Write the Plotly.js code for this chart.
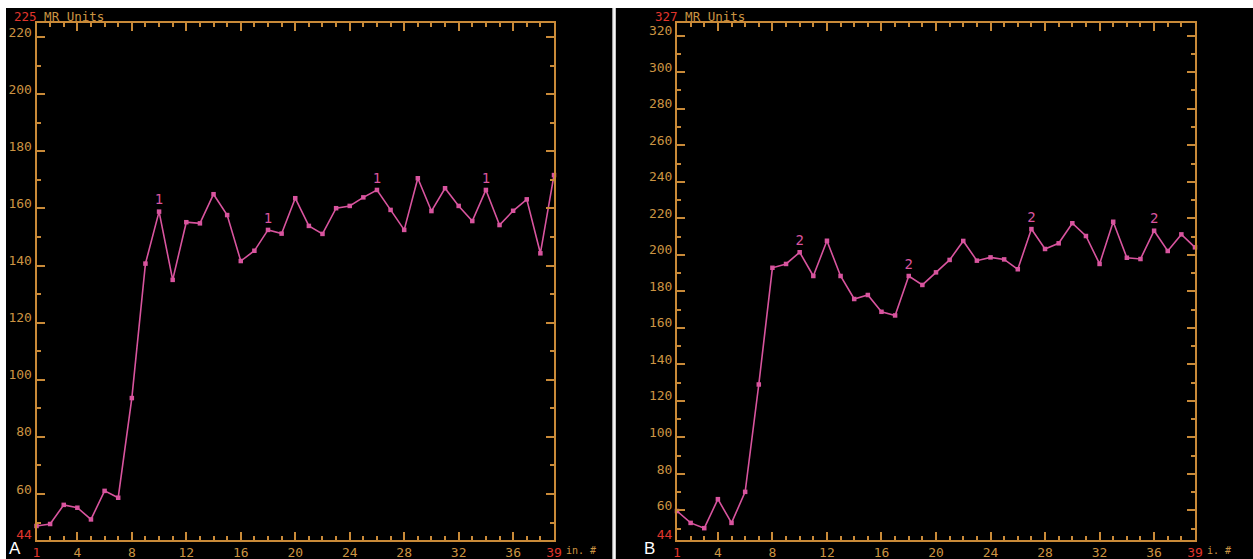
<!DOCTYPE html>
<html><head><meta charset="utf-8">
<script src="https://cdn.plot.ly/plotly-3.0.1.min.js"></script>
<style>html,body{margin:0;padding:0;background:#fff;}#chart{width:1253px;height:559px;}</style>
</head><body><div id="chart"></div>
<script>
// ---- data ----
const scanIndex = [1,2,3,4,5,6,7,8,9,10,11,12,13,14,15,16,17,18,19,20,21,22,23,24,25,26,27,28,29,30,31,32,33,34,35,36,37,38,39];
const valuesA = [48.8,49.5,56.2,55.2,51.1,61.1,58.7,93.6,140.7,158.9,135.0,155.2,154.8,165.0,157.7,141.6,145.2,152.5,151.2,163.6,153.9,151.1,160.1,160.9,163.9,166.5,159.5,152.5,170.6,159.1,167.1,160.9,155.6,166.5,154.2,159.2,163.2,144.3,171.7];
const valuesB = [59.7,53.2,50.3,66.2,53.2,70.2,129.0,192.9,195.0,201.4,188.4,207.7,188.4,175.8,178.0,168.8,166.8,188.4,183.5,190.4,197.2,207.6,196.8,198.6,197.5,192.1,214.1,203.2,206.3,217.3,210.3,195.0,218.1,198.4,197.7,213.2,202.1,211.2,204.1];
const labelPointsA = [10,18,26,34];
const labelPointsB = [10,18,27,36];
const markLabelA = '1';
const markLabelB = '2';
const xTickVals = [1,4,8,12,16,20,24,28,32,36,39];
const yTickValsA = [44,60,80,100,120,140,160,180,200,220];
const yTickValsB = [44,60,80,100,120,140,160,180,200,220,240,260,280,300,320];
const yMinAll = 44;
const yMaxA = 225;
const yMaxB = 327;
const unitLabel = 'MR Units';
const xUnitA = 'in. #';
const xUnitB = 'i. #';
const panelA = 'A';
const panelB = 'B';

// ---- style ----
const W = 1253, H = 559;
const axisColor = '#c98a38';
const labelColor = '#cc9442';
const red = '#e0352c';
const lineColor = '#d8549e';
const mono = 'DejaVu Sans Mono, Liberation Mono, monospace';
const px = v => v / W;
const py = v => 1 - v / H;

const red_ = t => `<span style="color:${red}">${t}</span>`;
const xText = xTickVals.map((v,i) => (i===0 || i===xTickVals.length-1) ? red_(v) : String(v));
const yTextA = yTickValsA.map(v => v===yMinAll ? red_(v) : String(v));
const yTextB = yTickValsB.map(v => v===yMinAll ? red_(v) : String(v));

function labels(idx, lab){ return scanIndex.map(i => idx.includes(i) ? lab : ''); }

function trace(vals, idx, lab, xa, ya){
  return {
    x: scanIndex, y: vals, xaxis: xa, yaxis: ya,
    type: 'scatter', mode: 'lines+markers+text',
    text: labels(idx, lab), textposition: 'top center',
    textfont: {family: mono, size: 14, color: lineColor},
    line: {color: lineColor, width: 1.6},
    marker: {color: lineColor, size: 4.5, symbol: 'square'},
    cliponaxis: false, hoverinfo: 'skip', showlegend: false
  };
}

function xaxis(dom){
  return {
    domain: dom, range: [1,39], showgrid: false, zeroline: false,
    showline: true, linecolor: axisColor, linewidth: 2, mirror: 'ticks',
    ticks: 'inside', ticklen: 8, tickwidth: 2, tickcolor: axisColor,
    tickmode: 'array', tickvals: xTickVals, ticktext: xText,
    tickfont: {family: mono, size: 13, color: labelColor},
    minor: {tickmode: 'linear', tick0: 0, dtick: 1, ticklen: 4, tickwidth: 2, tickcolor: axisColor, ticks: 'inside'},
    fixedrange: true
  };
}
function yaxis(xa, ymax, vals, txt){
  return {
    anchor: xa, domain: [py(539.7), py(22.9)], range: [yMinAll, ymax],
    showgrid: false, zeroline: false,
    showline: true, linecolor: axisColor, linewidth: 2, mirror: 'ticks',
    ticks: 'inside', ticklen: 8, tickwidth: 2, tickcolor: axisColor,
    tickmode: 'array', tickvals: vals, ticktext: txt,
    ticklabelshift: -5, ticklabelstandoff: 0,
    tickfont: {family: mono, size: 13, color: labelColor},
    minor: {tickmode: 'linear', tick0: 0, dtick: 10, ticklen: 4, tickwidth: 2, tickcolor: axisColor, ticks: 'inside'},
    fixedrange: true
  };
}

const layout = {
  width: W, height: H, margin: {l:0, r:0, t:0, b:0},
  paper_bgcolor: '#ffffff', plot_bgcolor: '#000000',
  xaxis: xaxis([px(36.5), px(554)]),
  yaxis: yaxis('x', yMaxA, yTickValsA, yTextA),
  xaxis2: Object.assign(xaxis([px(677), px(1195)]), {anchor: 'y2'}),
  yaxis2: yaxis('x2', yMaxB, yTickValsB, yTextB),
  shapes: [
    {type:'rect', xref:'paper', yref:'paper', x0:px(6), x1:px(612.5), y0:0, y1:py(8), fillcolor:'#000', line:{width:0}, layer:'below'},
    {type:'rect', xref:'paper', yref:'paper', x0:px(615.8), x1:1, y0:0, y1:py(8), fillcolor:'#000', line:{width:0}, layer:'below'},
    {type:'line', xref:'paper', yref:'paper', x0:px(612.9), x1:px(612.9), y0:0, y1:py(8), line:{color:'#bdbdbd', width:0.8}},
    {type:'line', xref:'paper', yref:'paper', x0:px(615.4), x1:px(615.4), y0:0, y1:py(8), line:{color:'#bdbdbd', width:0.8}}
  ],
  annotations: [
    {xref:'paper', yref:'paper', x:px(12), y:py(17), xanchor:'left', yanchor:'middle', showarrow:false,
     text: red_(yMaxA) + ' ' + unitLabel, font:{family:mono, size:12.5, color:labelColor}},
    {xref:'paper', yref:'paper', x:px(653), y:py(17), xanchor:'left', yanchor:'middle', showarrow:false,
     text: red_(yMaxB) + ' ' + unitLabel, font:{family:mono, size:12.5, color:labelColor}},
    {xref:'paper', yref:'paper', x:px(564), y:py(550), xanchor:'left', yanchor:'middle', showarrow:false,
     text: xUnitA, font:{family:mono, size:10, color:labelColor}},
    {xref:'paper', yref:'paper', x:px(1205), y:py(550), xanchor:'left', yanchor:'middle', showarrow:false,
     text: xUnitB, font:{family:mono, size:10, color:labelColor}},
    {xref:'paper', yref:'paper', x:px(15), y:0, xanchor:'center', yanchor:'bottom', showarrow:false, borderpad:0,
     text: panelA, font:{family:'Liberation Sans, Arial, sans-serif', size:17, color:'#ffffff'}},
    {xref:'paper', yref:'paper', x:px(649), y:0, xanchor:'center', yanchor:'bottom', showarrow:false, borderpad:0,
     text: panelB, font:{family:'Liberation Sans, Arial, sans-serif', size:17, color:'#ffffff'}}
  ]
};

Plotly.newPlot('chart', [
  trace(valuesA, labelPointsA, markLabelA, 'x', 'y'),
  trace(valuesB, labelPointsB, markLabelB, 'x2', 'y2')
], layout, {displayModeBar: false, staticPlot: true});
</script></body></html>
